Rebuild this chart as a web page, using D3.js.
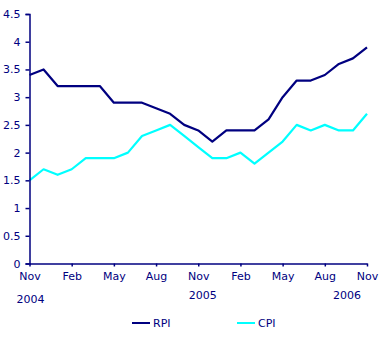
<!DOCTYPE html>
<html>
<head>
<meta charset="utf-8">
<script src="https://cdn.jsdelivr.net/npm/d3@7"></script>
<style>
  html, body { margin: 0; padding: 0; background: #fff; }
  svg { display: block; font-family: "DejaVu Sans", Verdana, sans-serif; }
</style>
</head>
<body>
<svg id="chart" width="382" height="345"></svg>
<script>
// Monthly inflation rates, Nov 2004 – Nov 2006 (%)
const months = ["Nov","Dec","Jan","Feb","Mar","Apr","May","Jun","Jul","Aug","Sep","Oct",
                "Nov","Dec","Jan","Feb","Mar","Apr","May","Jun","Jul","Aug","Sep","Oct","Nov"];
const rpi = [3.4,3.5,3.2,3.2,3.2,3.2,2.9,2.9,2.9,2.8,2.7,2.5,2.4,2.2,2.4,2.4,2.4,2.6,3.0,3.3,3.3,3.4,3.6,3.7,3.9];
const cpi = [1.5,1.7,1.6,1.7,1.9,1.9,1.9,2.0,2.3,2.4,2.5,2.3,2.1,1.9,1.9,2.0,1.8,2.0,2.2,2.5,2.4,2.5,2.4,2.4,2.7];
const yTicks = [0,0.5,1,1.5,2,2.5,3,3.5,4,4.5];
const yearLabels = [{idx:0, label:"2004", dy:0}, {idx:12.25, label:"2005", dy:-4}, {idx:22.5, label:"2006", dy:-4}];
const seriesList = [
  {name:"RPI", values:rpi, color:"#000080"},
  {name:"CPI", values:cpi, color:"#00FFFF"}
];

const ink = "#000080";
const svg = d3.select("#chart");

const x = d3.scaleLinear().domain([0, months.length - 1]).range([29.5, 367]);
const y = d3.scaleLinear().domain([0, 4.5]).range([263.5, 14]);

// Lines
const line = d3.line()
  .x((d, i) => x(i))
  .y(d => y(d))
  .curve(d3.curveLinear);

seriesList.forEach(s => {
  svg.append("path")
    .datum(s.values)
    .attr("fill", "none")
    .attr("stroke", s.color)
    .attr("stroke-width", 2.2)
    .attr("stroke-linejoin", "round")
    .attr("d", line);
});

// Y axis
const yAxis = svg.append("g")
  .attr("transform", `translate(${x(0)},0)`)
  .call(d3.axisLeft(y).tickValues(yTicks).tickSize(4).tickPadding(5)
        .tickFormat(d => String(d)));
yAxis.select(".domain").attr("stroke", ink).attr("stroke-width", 1.5);
yAxis.selectAll(".tick line").attr("stroke", ink).attr("stroke-width", 1.5);
yAxis.selectAll(".tick text").attr("fill", ink).attr("font-size", 11)
  .attr("font-family", "DejaVu Sans, Verdana, sans-serif");

// X axis: a tick and label every third month
const xTickIdx = d3.range(0, months.length, 3);
const xAxis = svg.append("g")
  .attr("transform", `translate(0,${y(0)})`)
  .call(d3.axisBottom(x).tickValues(xTickIdx).tickSize(3).tickSizeOuter(0).tickPadding(6)
        .tickFormat(i => months[i]));
xAxis.select(".domain").attr("stroke", ink).attr("stroke-width", 1.5);
xAxis.selectAll(".tick line").attr("stroke", ink).attr("stroke-width", 1.5);
xAxis.selectAll(".tick text").attr("fill", ink).attr("font-size", 11)
  .attr("font-family", "DejaVu Sans, Verdana, sans-serif");

// Year labels
svg.append("g").selectAll("text")
  .data(yearLabels)
  .join("text")
  .attr("x", d => x(d.idx) + 1)
  .attr("y", d => 303 + d.dy)
  .attr("text-anchor", "middle")
  .attr("font-size", 11)
  .attr("fill", ink)
  .text(d => d.label);

// Legend
const legend = svg.append("g");
const legendPos = [132, 237];
seriesList.forEach((s, i) => {
  const g = legend.append("g").attr("transform", `translate(${legendPos[i]},323)`);
  g.append("line").attr("x1", 0).attr("x2", 18).attr("y1", 0).attr("y2", 0)
    .attr("stroke", s.color).attr("stroke-width", 2);
  g.append("text").attr("x", 21).attr("y", 4).attr("font-size", 11)
    .attr("fill", ink).text(s.name);
});
</script>
</body>
</html>
